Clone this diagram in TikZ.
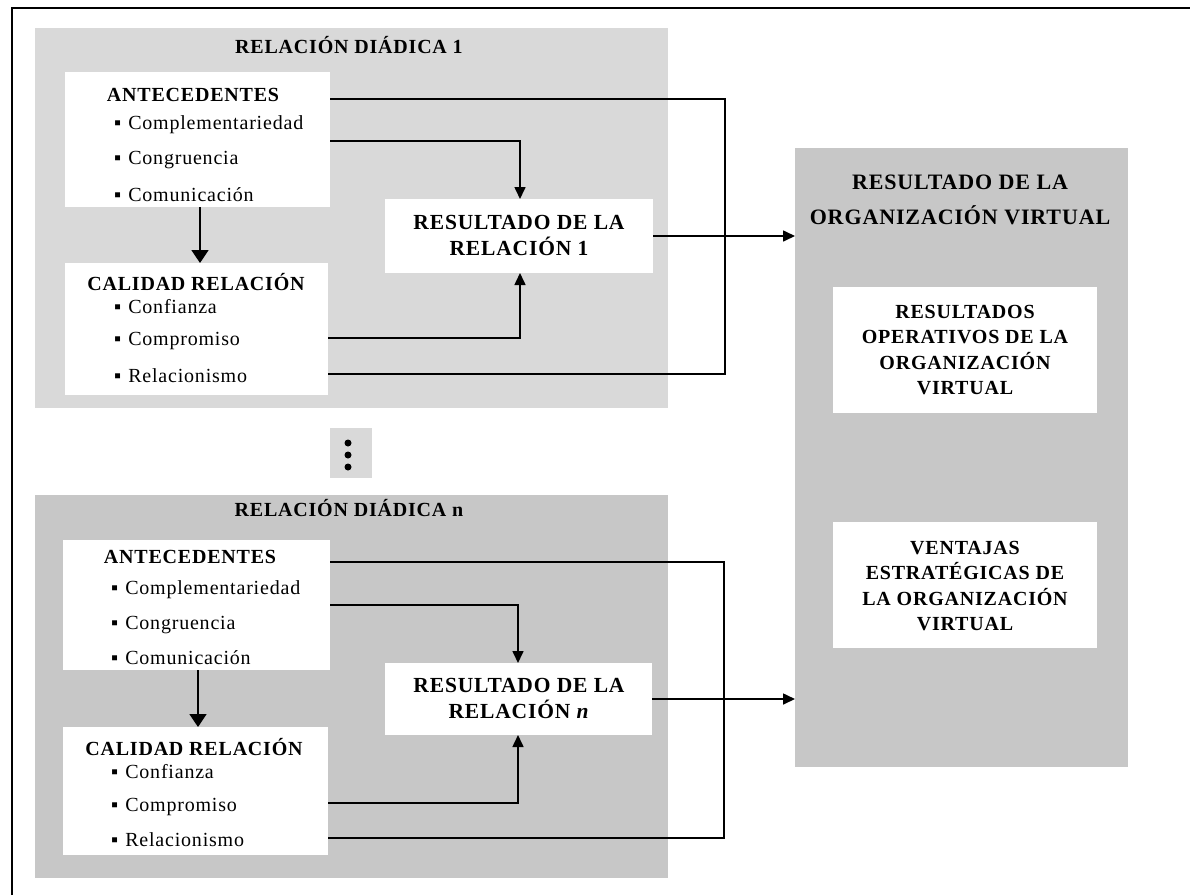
\documentclass[tikz,border=0pt]{standalone}
\usepackage{fontspec}
\setmainfont[LetterSpace=4]{Liberation Serif}
\usetikzlibrary{arrows.meta}
\tikzset{
  panel/.style={fill=black!22, draw=none, inner sep=0pt, outer sep=0pt, anchor=north west},
  lpanel/.style={panel, fill=black!15},
  wbox/.style={fill=white, draw=none, inner sep=0pt, outer sep=0pt, anchor=north west},
  hdr/.style={font=\bfseries\fontsize{20}{24}\selectfont, inner sep=0pt},
  bighdr/.style={font=\bfseries\fontsize{21.5}{26}\selectfont, inner sep=0pt, align=center},
  boxtxt/.style={font=\bfseries\fontsize{20}{25.5}\selectfont, inner sep=0pt, align=center},
  rtitle/.style={font=\bfseries\fontsize{22}{35}\selectfont, inner sep=0pt, align=center},
  item/.style={anchor=west, font=\fontsize{20}{24}\selectfont, inner sep=0pt},
  conn/.style={line width=1.6pt},
  arr/.style={conn, -{Triangle[length=12pt,width=11pt]}},
  bigarr/.style={conn, -{Triangle[length=13pt,width=17pt]}},
  dot/.style={circle, fill=black, inner sep=0pt, minimum size=7pt}
}
\newcommand{\bul}{▪\hspace{7pt}}
\begin{document}
\begin{tikzpicture}[x=1pt,y=-1pt]
\useasboundingbox (0,0) rectangle (1190,895);
\fill[white] (0,0) rectangle (1190,895);
% outer frame
\draw[line width=2pt] (12,895) -- (12,8) -- (1190,8);

% ===== Panel 1 =====
\node[lpanel, minimum width=633pt, minimum height=380pt] (p1) at (35,28) {};
\node[hdr] (t1) at (349,45) {RELACIÓN DIÁDICA 1};
\node[wbox, minimum width=265pt, minimum height=135pt] (ant1) at (65,72) {};
\node[hdr] (ant1h) at (193,95) {ANTECEDENTES};
\node[item] (ant1a) at (114,125) {\bul Complementariedad};
\node[item] (ant1b) at (114,160) {\bul Congruencia};
\node[item] (ant1c) at (114,195) {\bul Comunicación};
\node[wbox, minimum width=263pt, minimum height=132pt] (cal1) at (65,263) {};
\node[hdr] (cal1h) at (196,282) {CALIDAD RELACIÓN};
\node[item] (cal1a) at (114,307) {\bul Confianza};
\node[item] (cal1b) at (114,341) {\bul Compromiso};
\node[item] (cal1c) at (114,376) {\bul Relacionismo};
\node[wbox, minimum width=268pt, minimum height=74pt] (res1) at (385,199) {};
\node[bighdr] (res1t) at (519,235) {RESULTADO DE LA\\RELACIÓN 1};

% ===== dots =====
\node[lpanel, minimum width=42pt, minimum height=50pt] (dotsbox) at (330,428) {};
\node[dot] (d1) at (348,443) {};
\node[dot] (d2) at (348,455) {};
\node[dot] (d3) at (348,467) {};

% ===== Panel n =====
\node[panel, minimum width=633pt, minimum height=383pt] (p2) at (35,495) {};
\node[hdr] (t2) at (349,508) {RELACIÓN DIÁDICA n};
\node[wbox, minimum width=267pt, minimum height=130pt] (ant2) at (63,540) {};
\node[hdr] (ant2h) at (190,557) {ANTECEDENTES};
\node[item] (ant2a) at (111,590) {\bul Complementariedad};
\node[item] (ant2b) at (111,625) {\bul Congruencia};
\node[item] (ant2c) at (111,658) {\bul Comunicación};
\node[wbox, minimum width=265pt, minimum height=128pt] (cal2) at (63,727) {};
\node[hdr] (cal2h) at (194,747) {CALIDAD RELACIÓN};
\node[item] (cal2a) at (111,772) {\bul Confianza};
\node[item] (cal2b) at (111,807) {\bul Compromiso};
\node[item] (cal2c) at (111,840) {\bul Relacionismo};
\node[wbox, minimum width=267pt, minimum height=72pt] (res2) at (385,663) {};
\node[bighdr] (res2t) at (519,698) {RESULTADO DE LA\\RELACIÓN \textit{n}};

% ===== Right panel =====
\node[panel, minimum width=333pt, minimum height=619pt] (rov) at (795,148) {};
\node[rtitle] (rovt) at (960,200) {RESULTADO DE LA\\ORGANIZACIÓN VIRTUAL};
\node[wbox, minimum width=264pt, minimum height=126pt] (ops) at (833,287) {};
\node[boxtxt] (opst) at (965,350) {RESULTADOS\\OPERATIVOS DE LA\\ORGANIZACIÓN\\VIRTUAL};
\node[wbox, minimum width=264pt, minimum height=126pt] (ven) at (833,522) {};
\node[boxtxt] (vent) at (965,586) {VENTAJAS\\ESTRATÉGICAS DE\\LA ORGANIZACIÓN\\VIRTUAL};

% ===== connectors panel 1 =====
\coordinate (a1) at (725,99);
\coordinate (a2) at (725,374);
\coordinate (b1) at (520,141);
\coordinate (b2) at (520,338);
\draw[bigarr] (ant1.south -| 200,0) -- (cal1.north -| 200,0);
\draw[conn] (ant1.east |- a1) -- (a1) -- (a2) -- (cal1.east |- a2);
\draw[arr] (ant1.east |- b1) -- (b1) -- (b1 |- res1.north);
\draw[arr] (cal1.east |- b2) -- (b2) -- (b2 |- res1.south);
\draw[arr] (res1.east) -- (res1.east -| rov.west);

% ===== connectors panel n =====
\coordinate (e1) at (724,562);
\coordinate (e2) at (724,838);
\coordinate (f1) at (518,605);
\coordinate (f2) at (518,803);
\draw[bigarr] (ant2.south -| 198,0) -- (cal2.north -| 198,0);
\draw[conn] (ant2.east |- e1) -- (e1) -- (e2) -- (cal2.east |- e2);
\draw[arr] (ant2.east |- f1) -- (f1) -- (f1 |- res2.north);
\draw[arr] (cal2.east |- f2) -- (f2) -- (f2 |- res2.south);
\draw[arr] (res2.east) -- (res2.east -| rov.west);
\end{tikzpicture}
\end{document}
